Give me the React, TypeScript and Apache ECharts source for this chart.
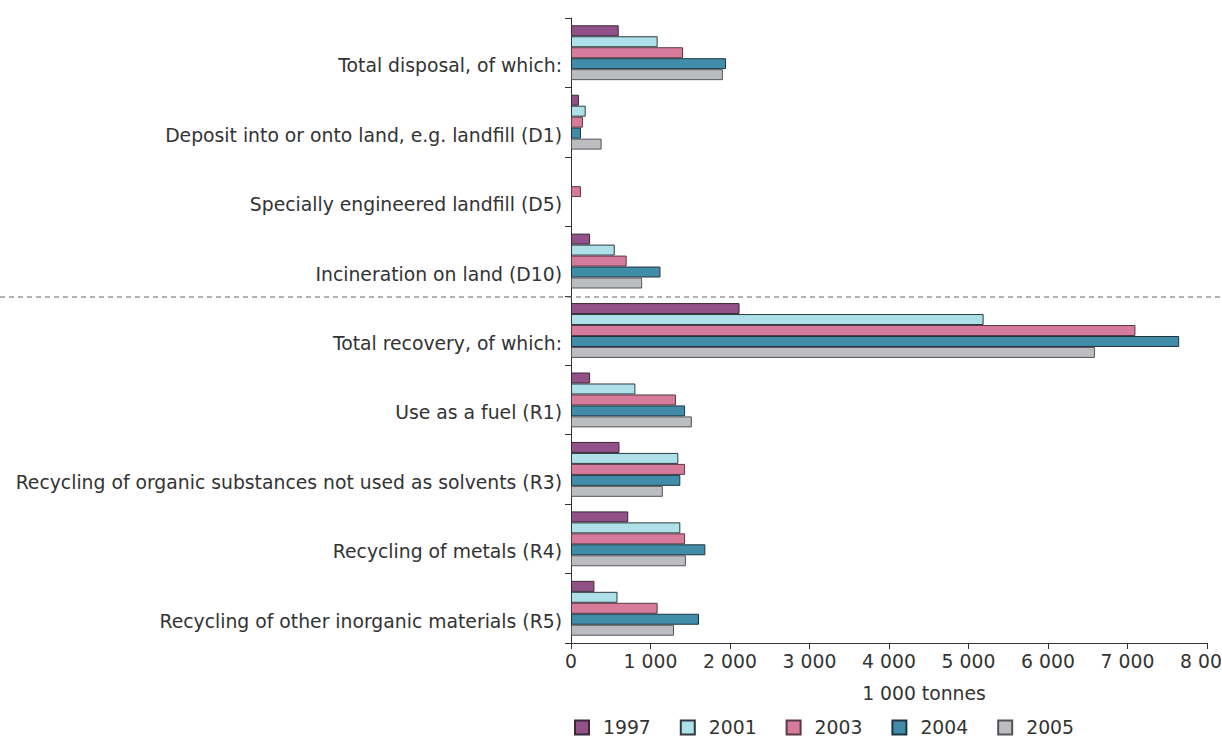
import React, { useEffect, useRef } from "react";
import * as echarts from "echarts";

const categories = [
  "Total disposal, of which:",
  "Deposit into or onto land, e.g. landfill (D1)",
  "Specially engineered landfill (D5)",
  "Incineration on land (D10)",
  "Total recovery, of which:",
  "Use as a fuel (R1)",
  "Recycling of organic substances not used as solvents (R3)",
  "Recycling of metals (R4)",
  "Recycling of other inorganic materials (R5)",
];

const years = ["1997", "2001", "2003", "2004", "2005"];

// null = no bar drawn in the reference
const v1997 = [600, 100, null, 240, 2120, 240, 610, 720, 295];
const v2001 = [1090, 185, null, 550, 5190, 810, 1350, 1375, 585];
const v2003 = [1410, 150, 125, 700, 7100, 1320, 1435, 1435, 1090];
const v2004 = [1950, 125, null, 1125, 7650, 1435, 1375, 1690, 1610];
const v2005 = [1910, 385, null, 895, 6590, 1520, 1155, 1445, 1295];

const seriesValues = [v1997, v2001, v2003, v2004, v2005];
const colors = ["#93518a", "#aee0ea", "#d77b9d", "#418ca8", "#bcbdc1"];
const borders = ["#3a2a38", "#2e3a3e", "#5a3a46", "#1e3440", "#555558"];

const xTicks = [0, 1000, 2000, 3000, 4000, 5000, 6000, 7000, 8000];

const FONT = "DejaVu Sans";
const FS = 18.8;

function fmt(v: number): string {
  const s = String(Math.round(v));
  return s.replace(/\B(?=(\d{3})+(?!\d))/g, " ");
}

export default function App() {
  const ref = useRef<HTMLDivElement>(null);
  useEffect(() => {
    if (!ref.current) return;
    const chart = echarts.init(ref.current, undefined, { renderer: "svg" });
    chart.setOption({
      animation: false,
      backgroundColor: "#ffffff",
      textStyle: { fontFamily: FONT },
      grid: {
        left: 571,
        right: 15,
        top: 18,
        bottom: 95,
        containLabel: false,
        outerBoundsMode: "none",
      },
      legend: {
        data: years,
        left: 574,
        top: 718,
        padding: 0,
        itemWidth: 14,
        itemHeight: 14,
        itemGap: 29,
        icon: "rect",
        textStyle: { fontSize: FS, color: "#333", fontFamily: FONT, padding: [0, 0, 0, 9] },
      },
      xAxis: {
        type: "value",
        min: xTicks[0],
        max: xTicks[xTicks.length - 1],
        interval: 1000,
        name: "1 000 tonnes",
        nameLocation: "middle",
        nameGap: 41,
        nameTextStyle: { fontSize: FS, color: "#333", fontFamily: FONT, padding: [0, 0, 0, 70] },
        axisLine: { show: true, lineStyle: { color: "#333", width: 1 } },
        axisTick: { show: true, length: 6, lineStyle: { color: "#333" } },
        axisLabel: {
          fontSize: FS,
          color: "#333",
          margin: 9,
          showMaxLabel: true,
          hideOverlap: false,
          formatter: (v: number) => fmt(v),
        },
        splitLine: { show: false },
      },
      yAxis: {
        type: "category",
        data: categories,
        inverse: true,
        axisLine: { show: true, lineStyle: { color: "#333", width: 1 } },
        axisTick: { show: true, length: 6, lineStyle: { color: "#333" } },
        axisLabel: {
          fontSize: FS,
          color: "#333",
          margin: 9,
          verticalAlign: "top",
          lineHeight: 26,
          interval: 0,
        },
      },
      series: years.map((y, i) => ({
        name: y,
        type: "bar",
        data: seriesValues[i],
        barGap: "0%",
        barCategoryGap: "21%",
        itemStyle: { color: colors[i], borderColor: borders[i], borderWidth: 1 },
      })),
    });
    const a = chart.convertToPixel({ yAxisIndex: 0 }, 3) as number;
    const b = chart.convertToPixel({ yAxisIndex: 0 }, 4) as number;
    const yb = Math.round((a + b) / 2) + 1;
    chart.setOption({
      graphic: [
        {
          type: "line",
          shape: { x1: 0, y1: yb, x2: 1222, y2: yb },
          style: { stroke: "#666", lineWidth: 1, lineDash: [5, 4] },
          z: 10,
        },
      ],
    });
    return () => chart.dispose();
  }, []);
  return (
    <div
      ref={ref}
      style={{ position: "absolute", left: 0, top: 0, width: 1222, height: 738 }}
    />
  );
}
